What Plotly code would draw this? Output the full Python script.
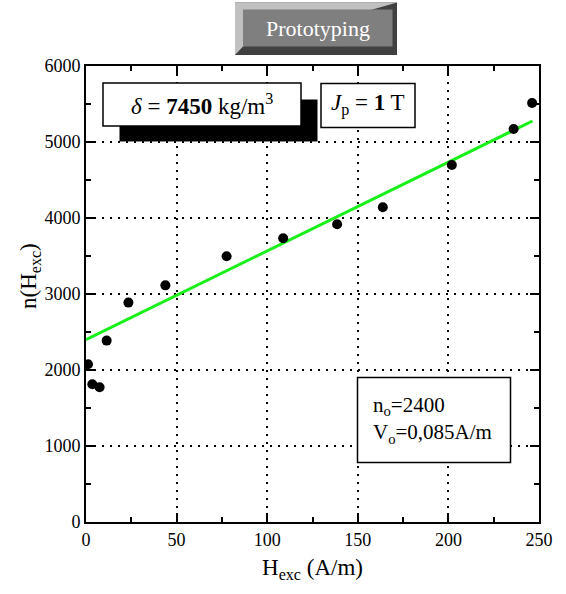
import plotly.graph_objects as go

# Data
h_exc = [1.1, 3.5, 7.5, 11.4, 23.4, 43.8, 77.6, 108.8, 138.6, 163.8, 201.9, 236.0, 246.2]
n_vals = [2075, 1812, 1772, 2387, 2887, 3114, 3496, 3733, 3917, 4141, 4697, 5171, 5513]
fit_x = [0, 246.4]
fit_y = [2400, 5276]
x_ticks = [0, 50, 100, 150, 200, 250]
y_ticks = [0, 1000, 2000, 3000, 4000, 5000, 6000]

W, H = 566, 594
L, R, T, B = 86, 539, 66, 522

def px(x):
    return (x - L) / (R - L)

def py(y):
    return (B - y) / (B - T)

FONT = "Liberation Serif"

fig = go.Figure()
fig.add_trace(go.Scatter(x=fit_x, y=fit_y, mode="lines",
                         line=dict(color="#19f019", width=3), hoverinfo="skip"))
fig.add_trace(go.Scatter(x=h_exc, y=n_vals, mode="markers",
                         marker=dict(color="black", size=10)))

shapes = []
# Title bevel box
ox0, ox1, oy0, oy1 = 235, 397, 2.5, 55
ix0, ix1, iy0, iy1 = 243, 392.5, 9.5, 46.5
shapes.append(dict(type="rect", xref="paper", yref="paper",
                   x0=px(ox0), x1=px(ox1), y0=py(oy1), y1=py(oy0),
                   fillcolor="#404040", line=dict(width=0)))
path = "M {a},{b} L {c},{d} L {e},{f} L {g},{h} Z".format(
    a=px(ox0), b=py(oy0), c=px(ox1), d=py(oy0), e=px(ix0), f=py(iy1), g=px(ox0), h=py(oy1))
shapes.append(dict(type="path", xref="paper", yref="paper", path=path,
                   fillcolor="#c0c0c0", line=dict(width=0)))
shapes.append(dict(type="rect", xref="paper", yref="paper",
                   x0=px(ix0), x1=px(ix1), y0=py(iy1), y1=py(iy0),
                   fillcolor="#7f7f7f", line=dict(width=0)))

# delta box with shadow
shapes.append(dict(type="rect", xref="paper", yref="paper", layer="above",
                   x0=px(119.5), x1=px(317.5), y0=py(141.5), y1=py(99.5),
                   fillcolor="black", line=dict(width=0)))
shapes.append(dict(type="rect", xref="paper", yref="paper", layer="above",
                   x0=px(103), x1=px(301), y0=py(126), y1=py(83),
                   fillcolor="white", line=dict(color="black", width=1.5)))
# J box
shapes.append(dict(type="rect", xref="paper", yref="paper", layer="above",
                   x0=px(321), x1=px(415), y0=py(127.5), y1=py(83.5),
                   fillcolor="white", line=dict(color="black", width=1.5)))
# n_o box
shapes.append(dict(type="rect", xref="paper", yref="paper", layer="above",
                   x0=px(357.5), x1=px(510.5), y0=py(462.5), y1=py(377.5),
                   fillcolor="white", line=dict(color="black", width=1.5)))

annotations = [
    dict(xref="paper", yref="paper", x=px(318), y=py(29), text="Prototyping",
         xanchor="center", yanchor="middle",
         showarrow=False, font=dict(family=FONT, size=22, color="white")),
    dict(xref="paper", yref="paper", x=px(202), y=py(104),
         xanchor="center", yanchor="middle",
         text="<i>δ</i> = <b>7450</b> kg/m<sup>3</sup>",
         showarrow=False, font=dict(family=FONT, size=23, color="black")),
    dict(xref="paper", yref="paper", x=px(368), y=py(104),
         xanchor="center", yanchor="middle",
         text="<i>J</i><sub>p</sub> = <b>1</b> T",
         showarrow=False, font=dict(family=FONT, size=23, color="black")),
    dict(xref="paper", yref="paper", x=px(371), y=py(420), xanchor="left", yanchor="middle",
         text="n<sub>o</sub>=2400<br>V<sub>o</sub>=0,085A/m", align="left",
         showarrow=False, font=dict(family=FONT, size=21, color="black")),
    dict(xref="paper", yref="paper", x=px(30), y=py(276), xanchor="center", yanchor="middle",
         textangle=-90, text="n(H<sub>exc</sub>)",
         showarrow=False, font=dict(family=FONT, size=23, color="black")),
]

axis_common = dict(
    showline=True, linecolor="black", linewidth=2, mirror="allticks",
    ticks="inside", ticklen=9, tickwidth=1.5, tickcolor="black",
    showgrid=True, gridcolor="black", gridwidth=1.5, griddash="2px,6px",
    zeroline=False, tickfont=dict(family=FONT, size=18, color="black"),
)

fig.update_layout(
    width=W, height=H,
    margin=dict(l=L, r=W - R, t=T, b=H - B),
    paper_bgcolor="white", plot_bgcolor="white",
    showlegend=False,
    shapes=shapes, annotations=annotations,
    font=dict(family=FONT, color="black"),
    xaxis=dict(range=[0, 250], tickvals=x_ticks, **axis_common,
               minor=dict(dtick=25, ticks="inside", ticklen=5, tickcolor="black", showgrid=False),
               title=dict(text="H<sub>exc</sub> (A/m)", font=dict(family=FONT, size=23), standoff=10)),
    yaxis=dict(range=[0, 6000], tickvals=y_ticks, **axis_common,
               minor=dict(dtick=500, ticks="inside", ticklen=5, tickcolor="black", showgrid=False)),
)

fig.write_html("out.html", post_script="document.body.style.margin='0px';",
               config={"displayModeBar": False})
